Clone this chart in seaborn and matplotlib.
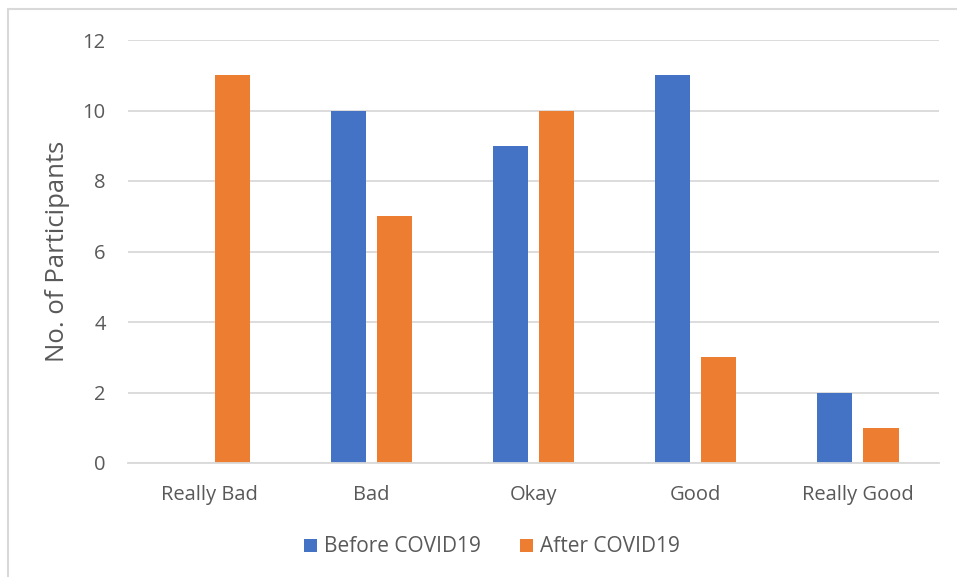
import matplotlib
matplotlib.use("Agg")
import matplotlib.pyplot as plt
import seaborn as sns
import pandas as pd
from matplotlib.patches import Rectangle

categories = ["Really Bad", "Bad", "Okay", "Good", "Really Good"]
before_covid = [0, 10, 9, 11, 2]
after_covid = [11, 7, 10, 3, 1]
series_names = ["Before COVID19", "After COVID19"]
y_ticks = [0, 2, 4, 6, 8, 10, 12]

df = pd.DataFrame({
    "Rating": categories * 2,
    "Count": before_covid + after_covid,
    "Period": [series_names[0]] * len(categories) + [series_names[1]] * len(categories),
})

sns.set_theme(style="white")
plt.rcParams["font.family"] = ["Open Sans", "DejaVu Sans"]

text_color = "#595959"
grid_color = "#D9D9D9"
palette = {series_names[0]: "#4472C4", series_names[1]: "#ED7D31"}

fig = plt.figure(figsize=(9.57, 5.77), dpi=100)
ax = fig.add_axes([128 / 957, 1 - 463 / 577, (939 - 128) / 957, (463 - 40) / 577])

sns.barplot(data=df, x="Rating", y="Count", hue="Period", order=categories,
            hue_order=series_names, palette=palette, width=0.57, gap=0.24,
            saturation=1, linewidth=0, ax=ax, legend=True)

ax.set_ylim(0, 12)
ax.set_yticks(y_ticks)
ax.set_xlim(-0.5, len(categories) - 0.5)
ax.yaxis.grid(True, color=grid_color, linewidth=1.3)
ax.set_axisbelow(True)
for side in ["top", "right", "left"]:
    ax.spines[side].set_visible(False)
ax.spines["bottom"].set_color(grid_color)
ax.spines["bottom"].set_linewidth(1.3)
ax.tick_params(axis="both", length=0, colors=text_color, labelsize=14.5)
ax.tick_params(axis="x", pad=16)
ax.tick_params(axis="y", pad=16)
ax.set_xlabel("")
ax.set_ylabel("No. of Participants", color=text_color, fontsize=18.5, labelpad=9)

ax.legend(loc="center", bbox_to_anchor=(492 / 957, 30 / 577), bbox_transform=fig.transFigure,
          ncol=2, frameon=False, fontsize=15, labelcolor=text_color,
          handlelength=0.6, handleheight=0.6, handletextpad=0.35, columnspacing=1.9)

# outer chart frame
fig.patches.append(Rectangle((8 / 957, -0.05), 1.0, 1 - 9 / 577 + 0.05,
                             transform=fig.transFigure, fill=False,
                             edgecolor="#D9D9D9", linewidth=1.5))

fig.savefig("out.png", dpi=100)
